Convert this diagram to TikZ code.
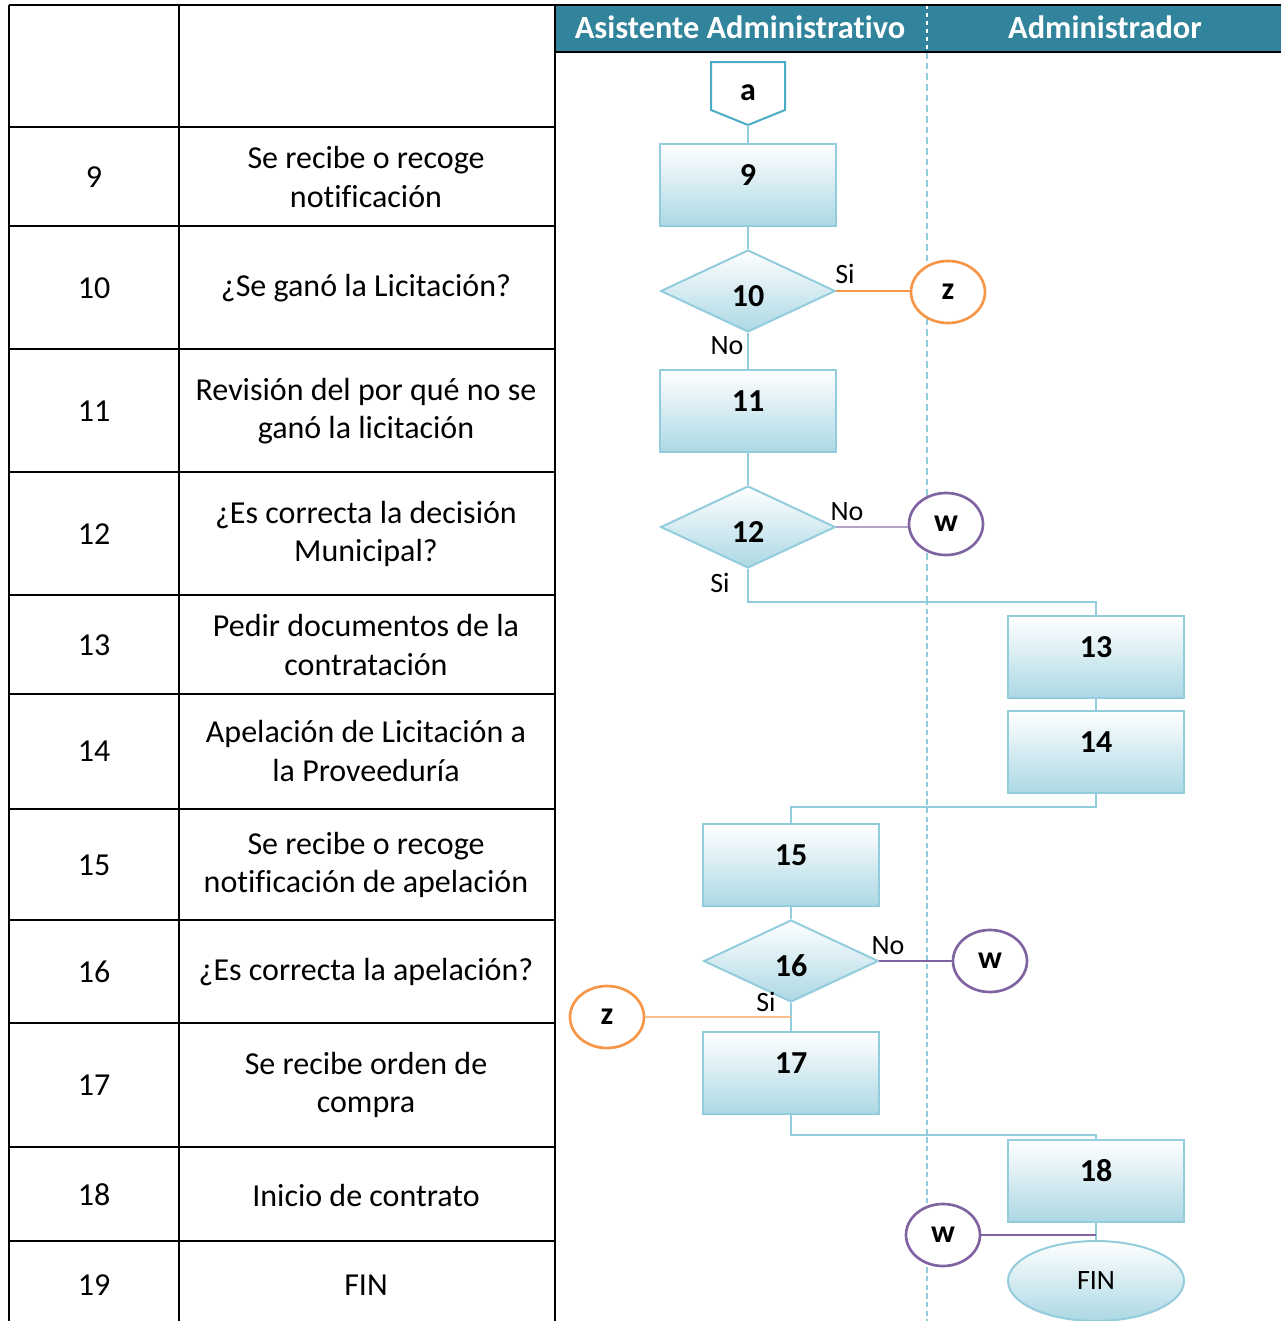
\documentclass[tikz,border=0pt]{standalone}
\usepackage{fontspec}
\setmainfont{Carlito}[Ligatures=NoCommon]
\usetikzlibrary{positioning,shapes.geometric,calc}
\definecolor{lanehead}{HTML}{31849B}
\definecolor{boxline}{HTML}{93CDDD}
\definecolor{boxfill}{HTML}{ACD8E4}
\definecolor{pageline}{HTML}{4BACC6}
\definecolor{connorange}{HTML}{F79646}
\definecolor{lightorange}{HTML}{FAC090}
\definecolor{connpurple}{HTML}{8064A2}
\definecolor{lightpurple}{HTML}{B3A2C7}
\tikzset{
  cell/.style={font=\fontsize{24}{29}\selectfont,align=center,inner sep=0pt},
  rule/.style={draw=black,line width=1.5pt},
  lanetitle/.style={font=\fontsize{24.3}{26}\selectfont\bfseries,text=white},
  taskbox/.style={draw=boxline,line width=1.5pt,top color=white,
                  bottom color=boxfill,minimum width=132pt,minimum height=61.5pt,
                  inner sep=0pt,font=\fontsize{24}{26}\selectfont\bfseries,
                  text height=10pt,text depth=10pt},
  decisionbox/.style={diamond,draw=boxline,line width=1.5pt,top color=white,
                      bottom color=boxfill,minimum width=131pt,
                      minimum height=61.5pt,inner sep=0pt,
                      font=\fontsize{24}{26}\selectfont\bfseries,
                      text height=23pt,text depth=0pt},
  endbox/.style={ellipse,draw=boxline,line width=1.5pt,top color=white,
                 bottom color=boxfill,minimum width=132pt,minimum height=60pt,
                 inner sep=0pt,font=\fontsize{21}{24}\selectfont},
  linkz/.style={ellipse,draw=connorange,line width=2pt,fill=white,
                minimum width=55.5pt,minimum height=46.5pt,inner sep=0pt,
                font=\fontsize{24}{26}\selectfont\bfseries},
  linkw/.style={linkz,draw=connpurple},
  flowline/.style={draw=boxline,line width=1.8pt},
  linkline/.style={line width=2.2pt},
  branchlabel/.style={font=\fontsize{21}{24}\selectfont,inner sep=0pt}
}
\begin{document}
\begin{tikzpicture}[x=0.75pt,y=-0.75pt]
  \useasboundingbox (0,0) rectangle (1281,1321);

  % lanes header
  \fill[lanehead] (555,5) rectangle (1281,52);
  \node[lanetitle] (asist) at (740,27) {Asistente Administrativo};
  \node[lanetitle] (admin) at (1105,27) {Administrador};
  \draw[white,line width=1pt,dashed] (927,5) -- (927,52);
  \draw[boxline,line width=2.2pt,dash pattern=on 5pt off 3pt] (927,52) -- (927,600);
  \draw[boxline,line width=0.8pt,dash pattern=on 4pt off 2.5pt] (927,600) -- (927,1321);

  % table
  \draw[rule] (9,5) -- (1281,5);
  \draw[rule] (555,52) -- (1281,52);
  \draw[rule] (9,5) -- (9,1321) (179,5) -- (179,1321) (555,5) -- (555,1321);
  \foreach \yy in {127,226,349,472,595,694,809,920,1023,1147,1241}{
    \draw[rule] (9,\yy) -- (555,\yy);
  }
  \foreach \n/\yy/\txt in {9/177/{Se recibe o recoge\\notificación},
      10/288/{¿Se ganó la Licitación?},
      11/411/{Revisión del por qué no se\\ganó la licitación},
      12/534/{¿Es correcta la decisión\\Municipal?},
      13/645/{Pedir documentos de la\\contratación},
      14/751/{Apelación de Licitación a\\la Proveeduría},
      15/865/{Se recibe o recoge\\notificación de apelación},
      16/972/{¿Es correcta la apelación?},
      17/1085/{Se recibe orden de\\compra},
      18/1195/{Inicio de contrato},
      19/1285/{FIN}}{
    \node[cell] (num\n) at (94,\yy) {\n};
    \node[cell] (desc\n) at (366,\yy) {\txt};
  }

  % off-page start
  \draw[pageline,line width=1.5pt,fill=white]
    (711,62) -- (785,62) -- (785,110) -- (748,125) -- (711,110) -- cycle;
  \node[font=\fontsize{24}{26}\selectfont\bfseries] (a) at (748,93) {a};
  \coordinate (atip) at (748,125);

  % steps
  \node[taskbox] (b9) at (748,185) {9};
  \node[decisionbox] (d10) at (748,291) {10};
  \node[linkz] (z1) at (948,292) {z};
  \node[taskbox] (b11) at (748,411) {11};
  \node[decisionbox] (d12) at (748,527) {12};
  \node[linkw] (w1) at (946,524) {w};
  \node[taskbox] (b13) at (1096,657) {13};
  \node[taskbox] (b14) at (1096,752) {14};
  \node[taskbox] (b15) at (791,865) {15};
  \node[decisionbox] (d16) at (791,961) {16};
  \node[linkw] (w2) at (990,961) {w};
  \node[linkz] (z2) at (607,1017) {z};
  \node[taskbox] (b17) at (791,1073) {17};
  \node[taskbox] (b18) at (1096,1181) {18};
  \node[linkw] (w3) at (943,1235) {w};
  \node[endbox] (fin) at (1096,1281) {FIN};

  % branch labels
  \node[branchlabel] (si10) at (845,274) {Si};
  \node[branchlabel] (no10) at (727,346) {No};
  \node[branchlabel] (no12) at (847,512) {No};
  \node[branchlabel] (si12) at (720,583) {Si};
  \node[branchlabel] (no16) at (888,946) {No};
  \node[branchlabel] (si16) at (766,1002) {Si};

  % connectors
  \draw[flowline] (atip) -- (b9);
  \draw[flowline] (b9) -- (d10);
  \draw[flowline] (d10) -- (b11);
  \draw[flowline] (b11) -- (d12);
  \draw[flowline] (d12.south) -- ++(0,33) -| (b13.north);
  \draw[flowline] (b13) -- (b14);
  \draw[flowline] (b14.south) -- ++(0,13) -| (b15.north);
  \draw[flowline] (b15) -- (d16);
  \draw[flowline] (d16) -- (b17);
  \draw[flowline] (b17.south) -- ++(0,20) -| (b18.north);
  \draw[flowline] (b18) -- (fin);
  \draw[linkline,connorange] (d10.east) -- (d10.east -| z1.west);
  \draw[linkline,lightpurple] (d12.east) -- (d12.east -| w1.west);
  \draw[linkline,connpurple] (d16.east) -- (d16.east -| w2.west);
  \draw[linkline,lightorange] (z2.east) -- (z2.east -| d16.south);
  \draw[linkline,connpurple] (w3.east) -- (w3.east -| b18.south);
\end{tikzpicture}
\end{document}
